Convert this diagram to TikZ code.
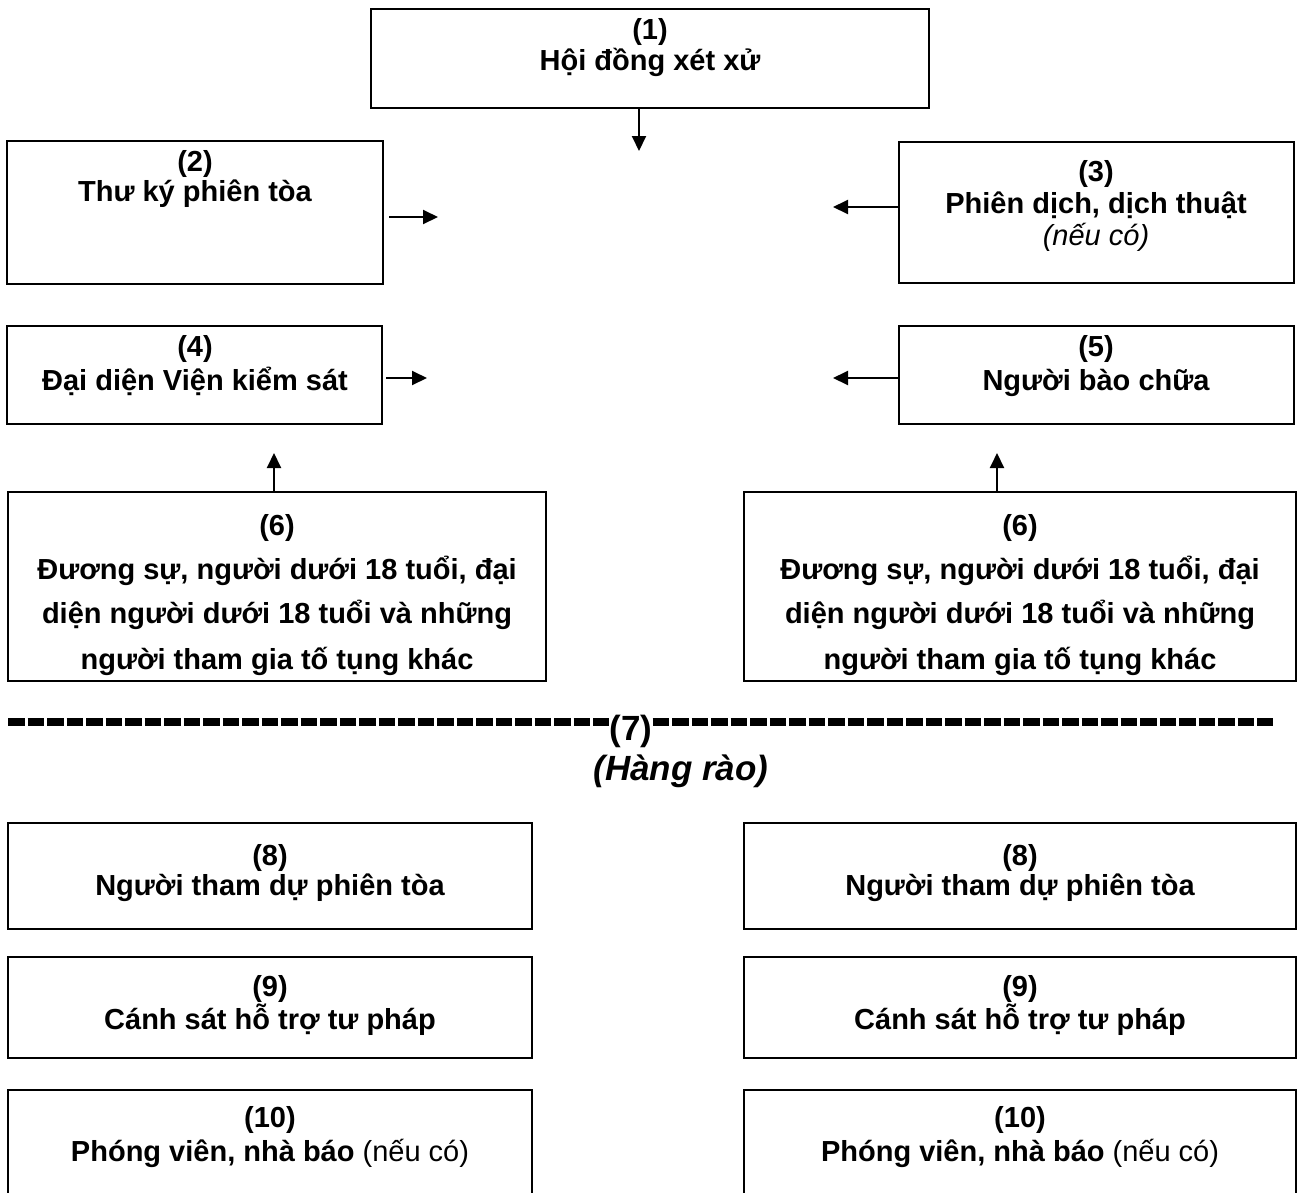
\documentclass[tikz,border=0pt]{standalone}
\usepackage{fontspec}
\setmainfont{Liberation Sans}
\usetikzlibrary{arrows.meta,fit}
\begin{document}
\begin{tikzpicture}[x=1pt,y=-1pt,
  box/.style={draw=black, line width=2.2pt, inner sep=0pt},
  txt/.style={font=\fontsize{29}{33}\selectfont\bfseries, inner sep=0pt, anchor=base},
  note/.style={font=\fontsize{29}{33}\selectfont\itshape, inner sep=0pt, anchor=base},
  big/.style={font=\fontsize{35}{40}\selectfont\bfseries, inner sep=0pt, anchor=base},
  arr/.style={line width=2pt, -{Triangle[length=15pt,width=14pt]}},
  fence/.style={line width=8pt, dash pattern=on 16.5pt off 3pt}]
\useasboundingbox (0,0) rectangle (1304,1192);
\clip (0,0) rectangle (1304,1192);

% (1)
\node[box, fit={(371,9)(929,108)}] (b1) {};
\node[txt] (b1n) at (650,39) {(1)};
\node[txt] (b1t) at (650,70) {Hội đồng xét xử};

% (2)
\node[box, fit={(7,141)(383,284)}] (b2) {};
\node[txt] (b2n) at (195,171) {(2)};
\node[txt] (b2t) at (195,201) {Thư ký phiên tòa};

% (3)
\node[box, fit={(899,142)(1294,283)}] (b3) {};
\node[txt] (b3n) at (1096,181) {(3)};
\node[txt] (b3t) at (1096,213) {Phiên dịch, dịch thuật};
\node[note] (b3i) at (1096,245) {(nếu có)};

% (4)
\node[box, fit={(7,326)(382,424)}] (b4) {};
\node[txt] (b4n) at (195,356) {(4)};
\node[txt] (b4t) at (195,390) {Đại diện Viện kiểm sát};

% (5)
\node[box, fit={(899,326)(1294,424)}] (b5) {};
\node[txt] (b5n) at (1096,356) {(5)};
\node[txt] (b5t) at (1096,390) {Người bào chữa};

% (6) left
\node[box, fit={(8,492)(546,681)}] (b6l) {};
\node[txt] (b6la) at (277,535) {(6)};
\node[txt] (b6lb) at (277,579) {Đương sự, người dưới 18 tuổi, đại};
\node[txt] (b6lc) at (277,623) {diện người dưới 18 tuổi và những};
\node[txt] (b6ld) at (277,669) {người tham gia tố tụng khác};

% (6) right
\node[box, fit={(744,492)(1296,681)}] (b6r) {};
\node[txt] (b6ra) at (1020,535) {(6)};
\node[txt] (b6rb) at (1020,579) {Đương sự, người dưới 18 tuổi, đại};
\node[txt] (b6rc) at (1020,623) {diện người dưới 18 tuổi và những};
\node[txt] (b6rd) at (1020,669) {người tham gia tố tụng khác};

% (7) fence
\node[big] (n7) at (631,740) {(7)};
\node[big, font=\fontsize{35}{40}\selectfont\bfseries\itshape] (n7t) at (681,780) {(Hàng rào)};
\coordinate (fl) at (8,722);
\coordinate (fr) at (1273,722);
\draw[fence] (fl) -- (fl -| n7.west);
\draw[fence] (fr -| n7.east) -- (fr);

% lower rows
\foreach \side/\cx/\xa/\xb in {l/270/8/532, r/1020/744/1296}{
  \node[box, fit={(\xa,823)(\xb,929)}] (b8\side) {};
  \node[txt] (b8\side n) at (\cx,865) {(8)};
  \node[txt] (b8\side t) at (\cx,895) {Người tham dự phiên tòa};
  \node[box, fit={(\xa,957)(\xb,1058)}] (b9\side) {};
  \node[txt] (b9\side n) at (\cx,996) {(9)};
  \node[txt] (b9\side t) at (\cx,1029) {Cánh sát hỗ trợ tư pháp};
  \node[box, fit={(\xa,1090)(\xb,1240)}] (b10\side) {};
  \node[txt] (b10\side n) at (\cx,1127) {(10)};
  \node[txt] (b10\side t) at (\cx,1161) {Phóng viên, nhà báo {\mdseries (nếu có)}};
}

% arrows
\coordinate (a1) at (639,151);
\draw[arr] (b1.south -| a1) -- (a1);
\coordinate (a2) at (438,217);
\draw[arr, shorten <=5pt] (b2.east |- a2) -- (a2);
\coordinate (a3) at (833,207);
\draw[arr] (b3.west |- a3) -- (a3);
\coordinate (a4) at (427,378);
\draw[arr, shorten <=3pt] (b4.east |- a4) -- (a4);
\coordinate (a5) at (833,378);
\draw[arr] (b5.west |- a5) -- (a5);
\coordinate (a6l) at (274,453);
\draw[arr] (b6l.north -| a6l) -- (a6l);
\coordinate (a6r) at (997,453);
\draw[arr] (b6r.north -| a6r) -- (a6r);
\end{tikzpicture}
\end{document}
